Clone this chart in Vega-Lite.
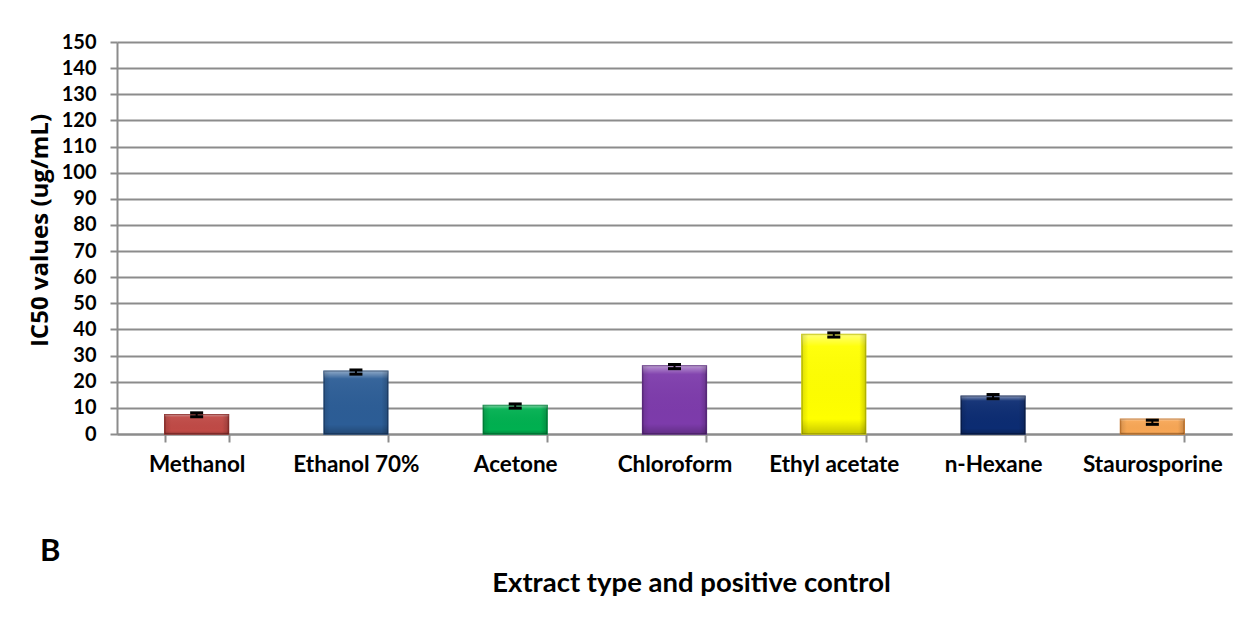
{
  "$schema": "https://vega.github.io/schema/vega-lite/v6.json",
  "width": 1115,
  "height": 392,
  "autosize": "none",
  "padding": {"left": 117, "top": 42, "right": 17, "bottom": 186},
  "background": "white",
  "config": {
    "view": {"stroke": null},
    "font": "Lato",
    "axisY": {
      "titleFont": "Open Sans",
      "titleFontSize": 24,
      "titleFontWeight": "bold",
      "titleColor": "black",
      "titleBaseline": "alphabetic",
      "titleAngle": -90,
      "titleX": -70,
      "titleY": 188,
      "titleAlign": "center",
      "labelFont": "Lato",
      "labelFontSize": 20,
      "labelFontWeight": "bold",
      "labelColor": "black",
      "labelPadding": 14,
      "labelOverlap": false,
      "tickSize": 7,
      "tickColor": "#8c8c8c",
      "tickWidth": 2,
      "domainColor": "#8c8c8c",
      "domainWidth": 2,
      "grid": true,
      "gridColor": "#8c8c8c",
      "gridWidth": 2
    }
  },
  "title": {
    "text": "B",
    "orient": "bottom",
    "anchor": "start",
    "frame": "bounds",
    "font": "Lato",
    "fontSize": 31,
    "fontWeight": "bold",
    "color": "black",
    "dx": 12,
    "dy": -64
  },
  "data": {
    "values": [
      {"extract": "Methanol", "value": 7.4, "lo": 6.6, "hi": 8.1},
      {"extract": "Ethanol 70%", "value": 24.0, "lo": 22.9, "hi": 24.5},
      {"extract": "Acetone", "value": 10.9, "lo": 9.9, "hi": 11.5},
      {"extract": "Chloroform", "value": 26.0, "lo": 25.0, "hi": 26.6},
      {"extract": "Ethyl acetate", "value": 38.1, "lo": 37.1, "hi": 38.7},
      {"extract": "n-Hexane", "value": 14.4, "lo": 13.5, "hi": 15.1},
      {"extract": "Staurosporine", "value": 5.6, "lo": 3.7, "hi": 5.3}
    ]
  },
  "encoding": {
    "x": {
      "field": "extract",
      "type": "nominal",
      "sort": null,
      "scale": {"paddingInner": 0.6, "paddingOuter": 0.3},
      "axis": {
        "title": "Extract type and positive control",
        "titleFont": "Lato",
        "titleFontSize": 27.5,
        "titleFontWeight": "bold",
        "titleColor": "black",
        "titleBaseline": "alphabetic",
        "titleX": 574,
        "titleY": 157,
        "labelAngle": 0,
        "labelFont": "Lato",
        "labelFontSize": 22.5,
        "labelFontWeight": "bold",
        "labelColor": "black",
        "labelPadding": 11,
        "tickBand": "extent",
        "tickSize": 8,
        "tickColor": "#8c8c8c",
        "tickWidth": 2,
        "domainColor": "#8c8c8c",
        "domainWidth": 2
      }
    }
  },
  "layer": [
    {
      "mark": {"type": "bar", "strokeWidth": 1.5},
      "encoding": {
        "y": {
          "field": "value",
          "type": "quantitative",
          "scale": {"domain": [0, 150], "nice": false},
          "axis": {"title": "IC50 values (ug/mL)", "values": [0, 10, 20, 30, 40, 50, 60, 70, 80, 90, 100, 110, 120, 130, 140, 150]}
        },
        "color": {
          "field": "extract",
          "type": "nominal",
          "sort": null,
          "legend": null,
          "scale": {
            "domain": ["Methanol", "Ethanol 70%", "Acetone", "Chloroform", "Ethyl acetate", "n-Hexane", "Staurosporine"],
            "range": ["#c04a46", "#2c5d96", "#00b050", "#7d3bab", "#ffff00", "#0c2c72", "#f7a655"]
          }
        },
        "stroke": {
          "field": "extract",
          "type": "nominal",
          "sort": null,
          "legend": null,
          "scale": {
            "domain": ["Methanol", "Ethanol 70%", "Acetone", "Chloroform", "Ethyl acetate", "n-Hexane", "Staurosporine"],
            "range": ["#8f2f2c", "#1d4270", "#00863c", "#5c2a80", "#c8c800", "#061c4f", "#c97a30"]
          }
        }
      }
    },
    {
      "mark": {
        "type": "bar",
        "color": {
          "gradient": "linear",
          "x1": 0, "y1": 0, "x2": 0, "y2": 1,
          "stops": [
            {"offset": 0, "color": "rgba(255,255,255,0.45)"},
            {"offset": 0.12, "color": "rgba(255,255,255,0.05)"},
            {"offset": 0.85, "color": "rgba(0,0,0,0)"},
            {"offset": 1, "color": "rgba(0,0,0,0.22)"}
          ]
        }
      },
      "encoding": {
        "y": {"field": "value", "type": "quantitative", "scale": {"domain": [0, 150], "nice": false}, "axis": {"title": "IC50 values (ug/mL)", "values": [0, 10, 20, 30, 40, 50, 60, 70, 80, 90, 100, 110, 120, 130, 140, 150]}}
      }
    },
    {
      "mark": {
        "type": "bar",
        "color": {
          "gradient": "linear",
          "x1": 0, "y1": 0, "x2": 1, "y2": 0,
          "stops": [
            {"offset": 0, "color": "rgba(0,0,0,0.12)"},
            {"offset": 0.1, "color": "rgba(0,0,0,0)"},
            {"offset": 0.9, "color": "rgba(0,0,0,0)"},
            {"offset": 1, "color": "rgba(0,0,0,0.18)"}
          ]
        }
      },
      "encoding": {
        "y": {"field": "value", "type": "quantitative", "scale": {"domain": [0, 150], "nice": false}, "axis": {"title": "IC50 values (ug/mL)", "values": [0, 10, 20, 30, 40, 50, 60, 70, 80, 90, 100, 110, 120, 130, 140, 150]}}
      }
    },
    {
      "mark": {"type": "rule", "color": "black", "strokeWidth": 2},
      "encoding": {
        "y": {"field": "lo", "type": "quantitative", "scale": {"domain": [0, 150], "nice": false}, "axis": {"title": "IC50 values (ug/mL)", "values": [0, 10, 20, 30, 40, 50, 60, 70, 80, 90, 100, 110, 120, 130, 140, 150]}},
        "y2": {"field": "hi"}
      }
    },
    {
      "mark": {"type": "tick", "color": "black", "opacity": 1, "thickness": 3, "size": 13},
      "encoding": {"y": {"field": "lo", "type": "quantitative", "scale": {"domain": [0, 150], "nice": false}, "axis": {"title": "IC50 values (ug/mL)", "values": [0, 10, 20, 30, 40, 50, 60, 70, 80, 90, 100, 110, 120, 130, 140, 150]}}}
    },
    {
      "mark": {"type": "tick", "color": "black", "opacity": 1, "thickness": 3, "size": 13},
      "encoding": {"y": {"field": "hi", "type": "quantitative", "scale": {"domain": [0, 150], "nice": false}, "axis": {"title": "IC50 values (ug/mL)", "values": [0, 10, 20, 30, 40, 50, 60, 70, 80, 90, 100, 110, 120, 130, 140, 150]}}}
    }
  ]
}
